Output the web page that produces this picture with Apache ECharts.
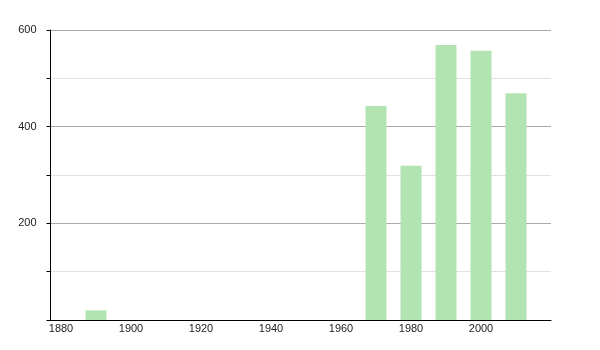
<!DOCTYPE html>
<html>
<head>
<meta charset="utf-8">
<script src="https://cdn.jsdelivr.net/npm/echarts@6/dist/echarts.min.js"></script>
<style>html,body{margin:0;padding:0;background:#fff}#c{width:600px;height:350px}</style>
</head>
<body>
<div id="c"></div>
<script>
const years = [1890, 1970, 1980, 1990, 2000, 2010];
const population = [20, 443, 319, 569, 557, 469];
const xTickLabels = [1880, 1900, 1920, 1940, 1960, 1980, 2000];
const yTickLabels = [200, 400, 600];

const chart = echarts.init(document.getElementById('c'), null, {renderer: 'canvas'});
chart.setOption({
  animation: false,
  backgroundColor: '#ffffff',
  grid: {left: 50.5, right: 49, top: 30, bottom: 30, containLabel: false},
  xAxis: {
    type: 'value',
    min: 1877,
    max: 2020,
    axisLine: {show: true, lineStyle: {color: '#000', width: 1}},
    axisTick: {show: false},
    splitLine: {show: false},
    axisLabel: {
      customValues: xTickLabels,
      color: '#222',
      fontSize: 11,
      fontFamily: 'Liberation Sans, Arial, sans-serif',
      margin: 3,
      formatter: v => String(v)
    }
  },
  yAxis: {
    type: 'value',
    min: 0,
    max: 600,
    interval: 200,
    axisLine: {show: true, lineStyle: {color: '#000', width: 1}},
    axisTick: {show: true, length: 4, lineStyle: {color: '#000'}},
    minorTick: {show: true, splitNumber: 2, length: 4, lineStyle: {color: '#000'}},
    splitLine: {show: true, lineStyle: {color: '#aaaaaa', width: 1}},
    minorSplitLine: {show: true, lineStyle: {color: '#e2e2e2', width: 1}},
    axisLabel: {
      color: '#222',
      fontSize: 11,
      fontFamily: 'Liberation Sans, Arial, sans-serif',
      margin: 14,
      formatter: v => (yTickLabels.indexOf(v) >= 0 ? String(v) : '')
    }
  },
  series: [{
    type: 'bar',
    data: years.map((y, i) => [y, population[i]]),
    barWidth: 21,
    itemStyle: {color: '#b2e4b2'}
  }]
});
</script>
</body>
</html>
